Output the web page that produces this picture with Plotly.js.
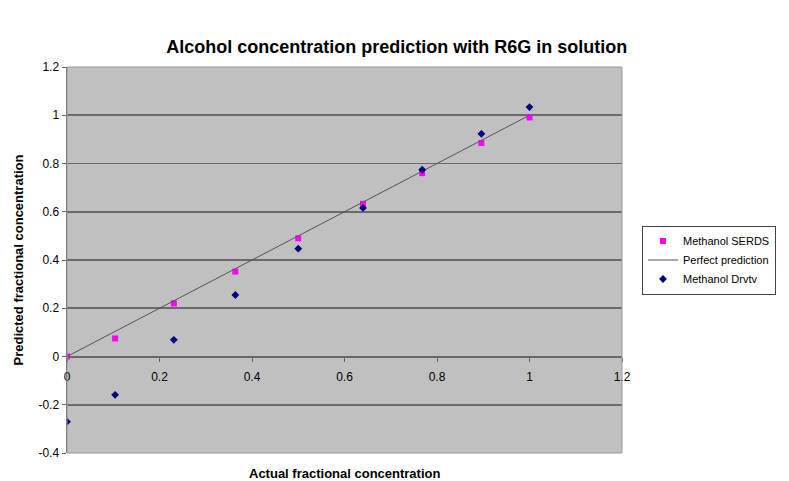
<!DOCTYPE html>
<html>
<head>
<meta charset="utf-8">
<script src="https://cdn.plot.ly/plotly-3.0.1.min.js"></script>
<style>body{margin:0;background:#fff;} #chart{width:789px;height:481px;}</style>
</head>
<body>
<div id="chart"></div>
<script>
const actual = [0, 0.104, 0.231, 0.364, 0.5, 0.64, 0.768, 0.896, 1.0];
const serds = [0, 0.075, 0.22, 0.352, 0.49, 0.633, 0.76, 0.885, 0.991];
const drvtv = [-0.27, -0.159, 0.069, 0.255, 0.447, 0.616, 0.774, 0.923, 1.034];
const perfectX = [0, 1];
const perfectY = [0, 1];
const xTickVals = [0, 0.2, 0.4, 0.6, 0.8, 1, 1.2];
const xTickText = ["0", "0.2", "0.4", "0.6", "0.8", "1", "1.2"];
const yTickVals = [-0.4, -0.2, 0, 0.2, 0.4, 0.6, 0.8, 1, 1.2];
const yTickText = ["-0.4", "-0.2", "0", "0.2", "0.4", "0.6", "0.8", "1", "1.2"];

const font = "Liberation Sans, Arial, sans-serif";

const traces = [
  {x: actual, y: serds, type: 'scatter', mode: 'markers', name: 'Methanol SERDS',
   marker: {symbol: 'square', size: 6, color: '#ff00ff'}},
  {x: perfectX, y: perfectY, type: 'scatter', mode: 'lines', name: 'Perfect prediction',
   line: {color: '#555555', width: 1}},
  {x: actual, y: drvtv, type: 'scatter', mode: 'markers', name: 'Methanol Drvtv',
   marker: {symbol: 'diamond', size: 6, color: '#000080'}}
];

const layout = {
  width: 789, height: 481,
  margin: {l: 67, r: 167, t: 67, b: 28},
  paper_bgcolor: '#ffffff',
  plot_bgcolor: '#c0c0c0',
  font: {family: font, size: 12, color: '#000'},
  showlegend: true,
  title: {text: '<b>Alcohol concentration prediction with R6G in solution</b>',
          font: {family: font, size: 18, color: '#000'}, x: 0.503, xanchor: 'center', y: 0.902, yanchor: 'middle'},
  xaxis: {
    range: [0, 1.2], tickvals: xTickVals, ticktext: xTickText,
    anchor: 'free', position: 0.25,
    showgrid: false, zeroline: false,
    showline: true, linecolor: '#666666', linewidth: 1.5,
    ticks: 'outside', ticklen: 4, tickcolor: '#666666',
    ticklabelstandoff: 5,
    tickfont: {family: font, size: 12, color: '#000'},
    title: {text: ''}
  },
  yaxis: {
    range: [-0.4, 1.2], tickvals: yTickVals, ticktext: yTickText,
    showgrid: true, gridcolor: '#6a6a6a', gridwidth: 1.6,
    zeroline: false,
    showline: true, linecolor: '#666666', linewidth: 1.5,
    ticks: 'outside', ticklen: 4, tickcolor: '#666666',
    tickfont: {family: font, size: 12, color: '#000'},
    title: {text: '<b>Predicted fractional concentration</b>', font: {family: font, size: 13, color: '#000'}, standoff: 12}
  },
  legend: {
    x: 1.036, xanchor: 'left', y: 0.5, yanchor: 'middle',
    bgcolor: '#ffffff', bordercolor: '#444444', borderwidth: 1,
    font: {family: font, size: 11, color: '#000'},
    tracegroupgap: 0, itemwidth: 30
  },
  annotations: [
    {text: '<b>Actual fractional concentration</b>', xref: 'paper', yref: 'paper',
     x: 0.5, y: -0.052, xanchor: 'center', yanchor: 'middle', showarrow: false,
     font: {family: font, size: 13, color: '#000'}}
  ],
  shapes: [
    {type: 'rect', xref: 'paper', yref: 'paper', x0: 0, x1: 1, y0: 0, y1: 1,
     line: {color: '#999999', width: 1}}
  ]
};

Plotly.newPlot('chart', traces, layout, {displayModeBar: false, staticPlot: true});
</script>
</body>
</html>
